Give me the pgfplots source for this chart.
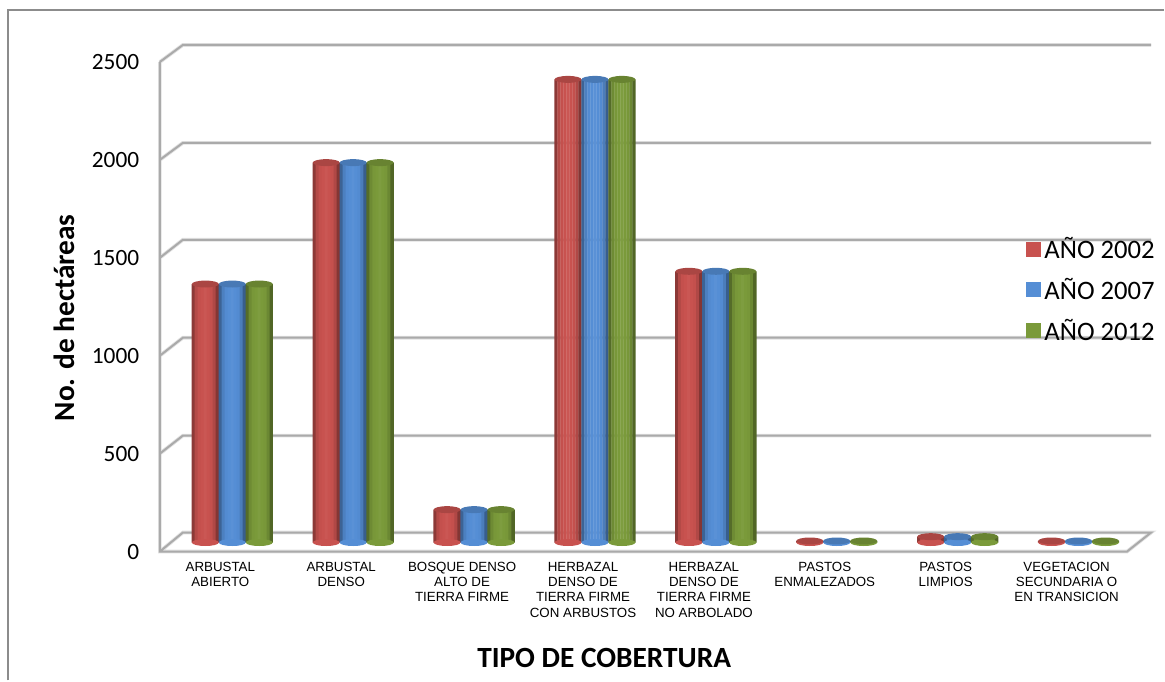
\documentclass[border=0pt]{standalone}
\usepackage{pgfplots}
\usepackage{pgfplotstable}
\pgfplotsset{compat=1.18}
\usepackage{fontspec}
\setmainfont{Carlito}
\newfontfamily\arial{Liberation Sans}

% 1 px of the reference = 0.75pt here
\definecolor{framegray}{RGB}{140,140,140}
\definecolor{gridgray}{RGB}{170,170,170}
\definecolor{gridsoft}{RGB}{225,225,225}
\definecolor{redmain}{RGB}{200,82,79}
\definecolor{bluemain}{RGB}{85,142,213}
\definecolor{greenmain}{RGB}{122,154,58}

\pgfdeclareplotmark{cyl}{%
  \pgfpathellipse{\pgfpointorigin}{\pgfqpoint{10.1pt}{0pt}}{\pgfqpoint{0pt}{2.6pt}}%
  \pgfusepathqfill}

% x: centre of the group, b: foot of the cylinder
\pgfplotstableread{
x    b  y2002 y2007 y2012
0.5  0  1320  1320  1320
1.5  0  1940  1940  1940
2.5  0  168   168   168
3.5  0  2365  2365  2365
4.5  0  1385  1385  1385
5.5  0  8     8     8
6.5  0  30    30    30
7.5  0  8     8     8
}\cobertura

\pgfplotsset{
  strip/.style 2 args={ybar, bar width=2.55pt, bar shift=#1pt, draw=none, fill=#2, forget plot},
  cap/.style={only marks, mark=cyl, mark options={fill=#1, draw=none}, forget plot},
  legend square/.style={draw=none, forget plot=false,
    legend image code/.code={\fill[#1] (0pt,-5.6pt) rectangle (11.2pt,5.6pt);}},
}

% one series: group offset, value column, colour; nine strips give the round look
\newcommand{\cylinders}[3]{%
  \addplot[cap=#3] table[x expr=\thisrow{x}+#1, y=b] {\cobertura};
  \addplot[strip={-9}{#3!70!black}]    table[x expr=\thisrow{x}+#1, y=#2] {\cobertura};
  \addplot[strip={-6.75}{#3!90!black}] table[x expr=\thisrow{x}+#1, y=#2] {\cobertura};
  \addplot[strip={-4.5}{#3!98!black}]  table[x expr=\thisrow{x}+#1, y=#2] {\cobertura};
  \addplot[strip={-2.25}{#3}]          table[x expr=\thisrow{x}+#1, y=#2] {\cobertura};
  \addplot[strip={0}{#3!97!white}]     table[x expr=\thisrow{x}+#1, y=#2] {\cobertura};
  \addplot[strip={2.25}{#3}]           table[x expr=\thisrow{x}+#1, y=#2] {\cobertura};
  \addplot[strip={4.5}{#3!98!black}]   table[x expr=\thisrow{x}+#1, y=#2] {\cobertura};
  \addplot[strip={6.75}{#3!88!black}]  table[x expr=\thisrow{x}+#1, y=#2] {\cobertura};
  \addplot[strip={9}{#3!66!black}]     table[x expr=\thisrow{x}+#1, y=#2] {\cobertura};
  \addplot[cap=#3!85!black] table[x expr=\thisrow{x}+#1, y=#2] {\cobertura};
}

\begin{document}
\begin{tikzpicture}

% frame and walls, in the pixel coordinates of the reference
\begin{axis}[
    at={(0pt,0pt)}, anchor=south west, scale only axis,
    width=873.75pt, height=510.75pt,
    xmin=0, xmax=1165, ymin=0, ymax=681, y dir=reverse,
    hide axis, clip=false, unbounded coords=jump,
  ]
\addplot[framegray, line width=1.5pt] coordinates {(8,681) (8,10.5) (1165,10.5)};
\addplot[gridsoft, line width=2.8pt] coordinates {
  (160,62) (183,45) (1152,45) (nan,nan)
  (160,160) (183,143) (1152,143) (nan,nan)
  (160,258) (183,240) (1152,240) (nan,nan)
  (160,356) (183,338) (1152,338) (nan,nan)
  (160,454) (183,436) (1152,436) (nan,nan)
  (160,552) (183,533) (1152,533) (1128,552) (160,552) (160,62)
};
\addplot[gridgray, line width=1.5pt] coordinates {
  (160,62) (183,45) (1152,45) (nan,nan)
  (160,160) (183,143) (1152,143) (nan,nan)
  (160,258) (183,240) (1152,240) (nan,nan)
  (160,356) (183,338) (1152,338) (nan,nan)
  (160,454) (183,436) (1152,436) (nan,nan)
  (160,552) (183,533) (1152,533) (1128,552) (160,552) (160,62)
};
\end{axis}

% bars, on the middle plane of the floor: value 0 at 543 px, x 172 to 1140 px
\begin{axis}[
    at={(129pt,103.5pt)}, anchor=south west, scale only axis,
    width=726pt, height=367.5pt,
    xmin=0, xmax=8, ymin=0, ymax=2500,
    clip=false,
    axis line style={draw=none},
    tick style={draw=none},
    ytick={0,500,...,2500},
    xtick={0.5,1.5,...,7.5},
    xticklabels={
      {ARBUSTAL\\ABIERTO},
      {ARBUSTAL\\DENSO},
      {BOSQUE DENSO\\ALTO DE\\TIERRA FIRME},
      {HERBAZAL\\DENSO DE\\TIERRA FIRME\\CON ARBUSTOS},
      {HERBAZAL\\DENSO DE\\TIERRA FIRME\\NO ARBOLADO},
      {PASTOS\\ENMALEZADOS},
      {PASTOS\\LIMPIOS},
      {VEGETACION\\SECUNDARIA O\\EN TRANSICION}},
    xticklabel style={align=center, anchor=north, xshift=-9pt, yshift=-11pt,
      font=\arial\fontsize{10}{11.5}\selectfont},
    yticklabel style={anchor=east, xshift=-21pt, yshift=-6.9pt,
      font=\fontsize{17.5}{20}\selectfont},
    /pgf/number format/assume math mode=true,
    /pgf/number format/1000 sep={},
    xlabel={TIPO DE COBERTURA},
    ylabel={No. de hect\'areas},
    every axis x label/.style={at={(axis description cs:0.447,-0.2365)}, anchor=center,
      font=\bfseries\fontsize{22}{26}\selectfont},
    every axis y label/.style={at={(axis description cs:-0.1115,0.459)}, anchor=center, rotate=90,
      font=\bfseries\fontsize{22}{26}\selectfont},
    legend style={at={(axis description cs:0.883,0.6285)}, anchor=north west, draw=none, fill=none,
      font=\fontsize{20}{24}\selectfont, row sep=9pt, inner sep=0pt,
      /tikz/every even column/.style={column sep=6.25pt}, nodes={inner xsep=2.5pt}},
    legend cell align=left,
  ]
\cylinders{-0.2231}{y2002}{redmain}
\cylinders{0}{y2007}{bluemain}
\cylinders{0.2231}{y2012}{greenmain}
% legend entries
\addplot[legend square=redmain]   table[x=x, y=b] {\cobertura};
\addlegendentry{AÑO 2002}
\addplot[legend square=bluemain]  table[x=x, y=b] {\cobertura};
\addlegendentry{AÑO 2007}
\addplot[legend square=greenmain] table[x=x, y=b] {\cobertura};
\addlegendentry{AÑO 2012}
\end{axis}

\path[use as bounding box] (0pt,0pt) rectangle (873.75pt,510.75pt);
\end{tikzpicture}
\end{document}
